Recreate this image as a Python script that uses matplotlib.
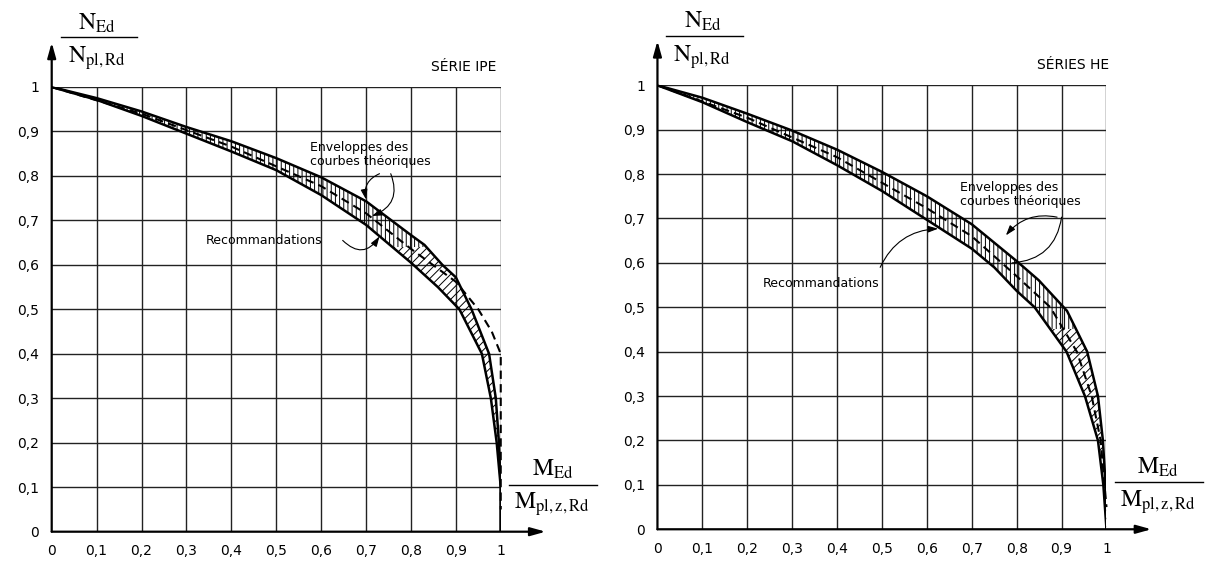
import matplotlib
matplotlib.use("Agg")
import matplotlib.pyplot as plt
from matplotlib.patches import Polygon, Rectangle

# --- data ---

tick_values = [0, 0.1, 0.2, 0.3, 0.4, 0.5, 0.6, 0.7, 0.8, 0.9, 1]
tick_labels = ["0", "0,1", "0,2", "0,3", "0,4", "0,5", "0,6", "0,7", "0,8", "0,9", "1"]

# IPE series (left)
ipe_upper_x = [0, 0.1, 0.2, 0.3, 0.4, 0.5, 0.6, 0.7, 0.8, 0.83, 0.87, 0.9, 0.935, 0.974, 0.989, 0.996, 1.0, 1.0]
ipe_upper_y = [1, 0.975, 0.945, 0.91, 0.878, 0.84, 0.797, 0.743, 0.667, 0.645, 0.6, 0.572, 0.5, 0.4, 0.3, 0.2, 0.1, 0]
ipe_lower_x = [0, 0.1, 0.2, 0.3, 0.4, 0.5, 0.6, 0.7, 0.8, 0.86, 0.908, 0.958, 0.978, 0.991, 1.0, 1.0]
ipe_lower_y = [1, 0.971, 0.935, 0.895, 0.855, 0.813, 0.757, 0.69, 0.605, 0.55, 0.5, 0.4, 0.3, 0.2, 0.1, 0]
ipe_rec_x = [0, 0.2, 0.4, 0.6, 0.7, 0.8, 0.9, 0.95, 0.98, 1.0, 1.0, 1.0]
ipe_rec_y = [1, 0.94, 0.866, 0.777, 0.716, 0.636, 0.562, 0.5, 0.45, 0.4, 0.2, 0.05]

# HE series (right)
he_upper_x = [0, 0.1, 0.2, 0.3, 0.4, 0.5, 0.6, 0.7, 0.8, 0.849, 0.912, 0.957, 0.981, 0.992, 0.998, 1.0]
he_upper_y = [1, 0.972, 0.936, 0.898, 0.855, 0.805, 0.75, 0.687, 0.604, 0.561, 0.492, 0.4, 0.3, 0.2, 0.1, 0]
he_lower_x = [0, 0.1, 0.2, 0.3, 0.4, 0.5, 0.6, 0.7, 0.75, 0.8, 0.84, 0.911, 0.952, 0.981, 0.993, 1.0]
he_lower_y = [1, 0.962, 0.917, 0.874, 0.82, 0.762, 0.697, 0.632, 0.59, 0.537, 0.5, 0.4, 0.3, 0.2, 0.1, 0]
he_rec_x = [0, 0.2, 0.4, 0.6, 0.7, 0.8, 0.875, 0.934, 0.967, 0.987, 1.0]
he_rec_y = [1, 0.927, 0.838, 0.723, 0.66, 0.57, 0.5, 0.4, 0.3, 0.2, 0.05]

plt.rcParams["mathtext.fontset"] = "stix"
plt.rcParams["hatch.linewidth"] = 0.7
TICK_FONT = "DejaVu Sans"


def draw_fraction(ax, x, y_num, y_bar, y_den, x0, x1, num, den, size=17):
    ax.text(x, y_num, num, ha="center", va="center", fontsize=size, clip_on=False)
    ax.text(x, y_den, den, ha="center", va="center", fontsize=size, clip_on=False)
    ax.plot([x0, x1], [y_bar, y_bar], color="black", lw=1.0, clip_on=False)


def draw_panel(ax, upper, lower, rec, split_y, title, title_x):
    ax.set_xlim(0, 1)
    ax.set_ylim(0, 1)

    # grid
    for v in tick_values[1:]:
        ax.axvline(v, color="#222222", lw=1.0, zorder=1)
        ax.axhline(v, color="#222222", lw=1.0, zorder=1)
    for s in ax.spines.values():
        s.set_visible(False)

    # axes with arrows
    head = "-|>,head_length=0.9,head_width=0.25"
    ax.annotate("", xy=(1.1, 0), xytext=(0, 0), annotation_clip=False,
                arrowprops=dict(arrowstyle=head, lw=1.6, color="black", shrinkA=0, shrinkB=0))
    ax.annotate("", xy=(0, 1.1), xytext=(0, 0), annotation_clip=False,
                arrowprops=dict(arrowstyle=head, lw=1.6, color="black", shrinkA=0, shrinkB=0))

    ax.set_xticks(tick_values)
    ax.set_yticks(tick_values)
    ax.set_xticklabels(tick_labels, family=TICK_FONT, fontsize=10)
    ax.set_yticklabels(tick_labels, family=TICK_FONT, fontsize=10)
    ax.tick_params(length=0, pad=9)

    # hatched band between the envelopes, two hatch styles
    ux, uy = upper
    lx, ly = lower
    verts = list(zip(ux, uy)) + list(zip(lx, ly))[::-1]
    for hatch, y_lo, y_hi in [("||||", split_y, 1.05), ("////", -0.05, split_y)]:
        band = Polygon(verts, closed=True, facecolor="none", edgecolor="black",
                       hatch=hatch, lw=0, zorder=2)
        ax.add_patch(band)
        band.set_clip_path(Rectangle((-0.1, y_lo), 1.3, y_hi - y_lo, transform=ax.transData))

    ax.plot(ux, uy, color="black", lw=1.8, zorder=4, solid_joinstyle="round")
    ax.plot(lx, ly, color="black", lw=1.8, zorder=4, solid_joinstyle="round")
    ax.plot(rec[0], rec[1], color="black", lw=1.5, ls=(0, (4, 2.5)), zorder=5, clip_on=False)

    ax.text(title_x, 1.03, title, ha="right", va="bottom", fontsize=10, family=TICK_FONT)

    # axis labels as fractions
    draw_fraction(ax, 0.1, 1.145, 1.112, 1.064, 0.02, 0.19,
                  r"$\mathrm{N_{Ed}}$", r"$\mathrm{N_{pl,Rd}}$")
    draw_fraction(ax, 1.115, 0.14, 0.106, 0.062, 1.018, 1.215,
                  r"$\mathrm{M_{Ed}}$", r"$\mathrm{M_{pl,z,Rd}}$")


fig = plt.figure(figsize=(12.11, 5.63), dpi=100)
ax1 = fig.add_axes([0.0427, 0.0556, 0.3708, 0.7899])
ax2 = fig.add_axes([0.5429, 0.0599, 0.3708, 0.7886])

draw_panel(ax1, (ipe_upper_x, ipe_upper_y), (ipe_lower_x, ipe_lower_y), (ipe_rec_x, ipe_rec_y),
           0.64, "SÉRIE IPE", 0.99)
draw_panel(ax2, (he_upper_x, he_upper_y), (he_lower_x, he_lower_y), (he_rec_x, he_rec_y),
           0.45, "SÉRIES HE", 1.005)

arrow = dict(arrowstyle="-|>,head_length=0.6,head_width=0.2", lw=0.8, color="black", shrinkA=0, shrinkB=0)

# left annotations
ax1.text(0.576, 0.848, "Enveloppes des\ncourbes théoriques", ha="left", va="center",
         fontsize=9, family=TICK_FONT, linespacing=1.15, zorder=6)
ax1.annotate("", xy=(0.70, 0.747), xytext=(0.73, 0.805),
             arrowprops=dict(arrow, connectionstyle="arc3,rad=0.4"))
ax1.annotate("", xy=(0.713, 0.71), xytext=(0.755, 0.805),
             arrowprops=dict(arrow, connectionstyle="arc3,rad=-0.5"))
ax1.text(0.343, 0.655, "Recommandations", ha="left", va="center", fontsize=9, family=TICK_FONT, zorder=6)
ax1.annotate("", xy=(0.73, 0.664), xytext=(0.648, 0.655),
             arrowprops=dict(arrow, connectionstyle="arc3,rad=0.6"))

# right annotations
ax2.text(0.673, 0.754, "Enveloppes des\ncourbes théoriques", ha="left", va="center",
         fontsize=9, family=TICK_FONT, linespacing=1.15, zorder=6)
ax2.annotate("", xy=(0.776, 0.662), xytext=(0.89, 0.703),
             arrowprops=dict(arrow, connectionstyle="arc3,rad=0.3"))
ax2.annotate("", xy=(0.79, 0.6), xytext=(0.9, 0.703),
             arrowprops=dict(arrow, arrowstyle="-", connectionstyle="arc3,rad=-0.4"))
ax2.text(0.234, 0.553, "Recommandations", ha="left", va="center", fontsize=9, family=TICK_FONT, zorder=6)
ax2.annotate("", xy=(0.625, 0.677), xytext=(0.496, 0.59),
             arrowprops=dict(arrow, connectionstyle="arc3,rad=-0.3"))

fig.savefig("out.png", dpi=100, facecolor="white")
